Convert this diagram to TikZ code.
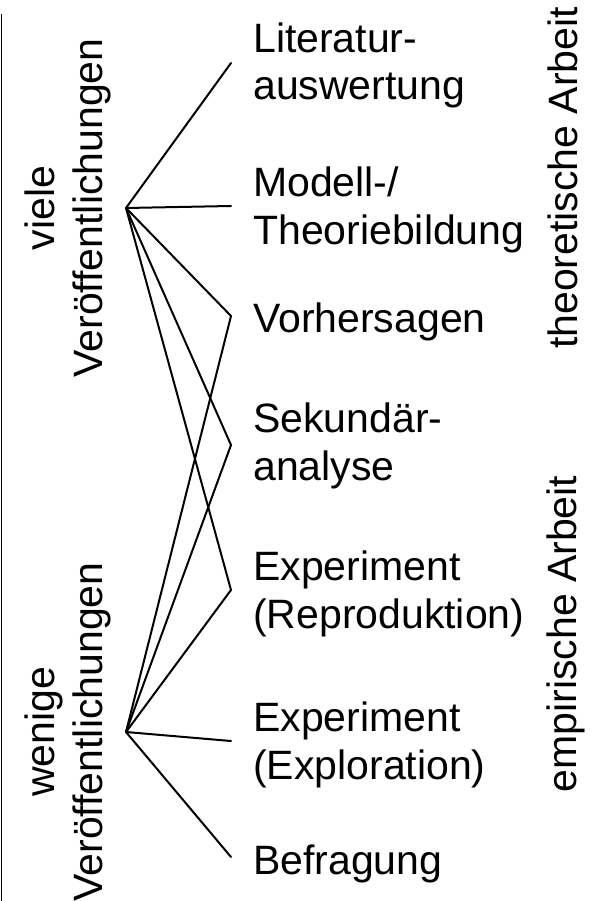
\documentclass[tikz,border=0pt]{standalone}
\usepackage{fontspec}
\setmainfont{Liberation Sans}
\usetikzlibrary{positioning}

\begin{document}
\begin{tikzpicture}[x=1pt,y=-1pt,
    lbl/.style={font=\fontsize{41}{47.5}\selectfont,inner sep=0pt,align=left,anchor=base west},
    vlbl/.style={font=\fontsize{41}{47.5}\selectfont,inner sep=0pt,rotate=90,anchor=base},
    link/.style={line width=2pt,line cap=round}]
    \useasboundingbox (0,0) rectangle (598,901);

    % Rahmen links
    \coordinate (rand-o) at (1.5,14);
    \coordinate (rand-u) at (1.5,901);
    \draw[line width=1.5pt] (rand-o) -- (rand-u);

    % Anzahl Veroeffentlichungen
    \coordinate (viele) at (126,208);
    \coordinate (wenige) at (126,732);
    \node[vlbl] (viele-1) at (54,208) {viele};
    \node[vlbl] (viele-2) at (102,208) {Veröffentlichungen};
    \node[vlbl] (wenige-1) at (54,732) {wenige};
    \node[vlbl] (wenige-2) at (102,732) {Veröffentlichungen};

    % Arten der Arbeit
    \node[vlbl] (theorie) at (577,178) {theoretische Arbeit};
    \node[vlbl] (empirie) at (576,634) {empirische Arbeit};

    % Methoden (Grundlinie der letzten Zeile)
    \foreach \name/\txt/\yb/\ye in {lit/{Literatur-\\auswertung}/100/63,
                                    mod/{Modell-/\\Theoriebildung}/244/206,
                                    vor/{Vorhersagen}/332/316,
                                    sek/{Sekundär-\\analyse}/480/445,
                                    rep/{Experiment\\(Reproduktion)}/628/590,
                                    exp/{Experiment\\(Exploration)}/779/741,
                                    bef/{Befragung}/874/857}
    {
        \node[lbl] (\name) at (253,\yb) {\txt};
        \coordinate (\name-p) at (231,\ye);
    }

    % Verbindungen
    \foreach \von/\nach in {viele/lit, viele/mod, viele/vor, viele/sek, viele/rep,
                            wenige/vor, wenige/sek, wenige/rep, wenige/exp, wenige/bef}
        \draw[link] (\von) -- (\nach-p);
\end{tikzpicture}
\end{document}
